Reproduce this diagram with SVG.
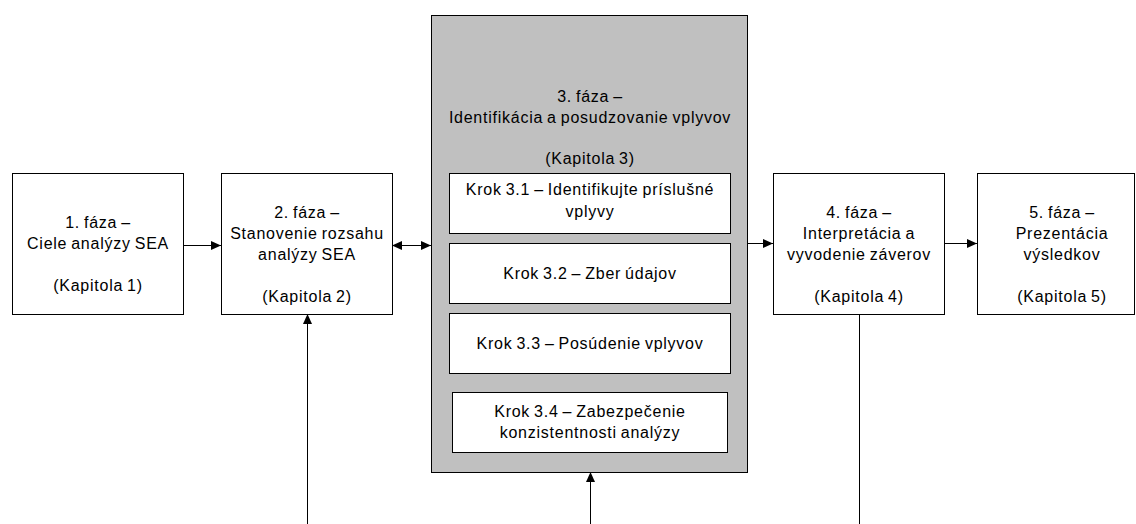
<svg xmlns="http://www.w3.org/2000/svg" width="1136" height="524" viewBox="0 0 1136 524">
  <style>
    .box { fill: #ffffff; stroke: #000000; stroke-width: 1; }
    .phase3 { fill: #c0c0c0; stroke: #000000; stroke-width: 1; }
    .lbl { font-family: "Liberation Sans", Arial, sans-serif; font-size: 16px; letter-spacing: 0.75px; word-spacing: -1.2px; fill: #000000; text-anchor: middle; }
    .conn { fill: none; stroke: #000000; stroke-width: 1; }
  </style>
  <defs>
    <marker id="arrow" markerUnits="userSpaceOnUse" markerWidth="11" markerHeight="10" refX="10" refY="4.5" orient="auto-start-reverse">
      <path d="M0,0 L10,4.5 L0,9 Z" fill="#000000"/>
    </marker>
  </defs>

  <rect width="1136" height="524" fill="#ffffff"/>

  <!-- Phase 1 -->
  <g id="phase1">
    <rect class="box" x="12.5" y="173.5" width="171" height="141"/>
    <text class="lbl" x="98" y="228">1. fáza –</text>
    <text class="lbl" x="98" y="249">Ciele analýzy SEA</text>
    <text class="lbl" x="98" y="291">(Kapitola 1)</text>
  </g>

  <!-- Phase 2 -->
  <g id="phase2">
    <rect class="box" x="221.5" y="173.5" width="171" height="141"/>
    <text class="lbl" x="307" y="218">2. fáza –</text>
    <text class="lbl" x="307" y="239">Stanovenie rozsahu</text>
    <text class="lbl" x="307" y="260">analýzy SEA</text>
    <text class="lbl" x="307" y="302">(Kapitola 2)</text>
  </g>

  <!-- Phase 3 with its steps -->
  <g id="phase3">
    <rect class="phase3" x="431.5" y="15.5" width="316" height="457"/>
    <text class="lbl" x="590" y="102">3. fáza –</text>
    <text class="lbl" x="590" y="123">Identifikácia a posudzovanie vplyvov</text>
    <text class="lbl" x="590" y="164">(Kapitola 3)</text>
  </g>
  <g id="step31">
    <rect class="box" x="449.5" y="173.5" width="281" height="60"/>
    <text class="lbl" x="590" y="195">Krok 3.1 – Identifikujte príslušné</text>
    <text class="lbl" x="590" y="217">vplyvy</text>
  </g>
  <g id="step32">
    <rect class="box" x="449.5" y="243.5" width="281" height="60"/>
    <text class="lbl" x="590" y="279">Krok 3.2 – Zber údajov</text>
  </g>
  <g id="step33">
    <rect class="box" x="449.5" y="313.5" width="281" height="60"/>
    <text class="lbl" x="590" y="349">Krok 3.3 – Posúdenie vplyvov</text>
  </g>
  <g id="step34">
    <rect class="box" x="452.5" y="392.5" width="275" height="60"/>
    <text class="lbl" x="590" y="417">Krok 3.4 – Zabezpečenie</text>
    <text class="lbl" x="590" y="438">konzistentnosti analýzy</text>
  </g>

  <!-- Phase 4 -->
  <g id="phase4">
    <rect class="box" x="773.5" y="173.5" width="171" height="141"/>
    <text class="lbl" x="859" y="218">4. fáza –</text>
    <text class="lbl" x="859" y="239">Interpretácia a</text>
    <text class="lbl" x="859" y="260">vyvodenie záverov</text>
    <text class="lbl" x="859" y="302">(Kapitola 4)</text>
  </g>

  <!-- Phase 5 -->
  <g id="phase5">
    <rect class="box" x="977.5" y="173.5" width="157" height="141"/>
    <text class="lbl" x="1062" y="218">5. fáza –</text>
    <text class="lbl" x="1062" y="239">Prezentácia</text>
    <text class="lbl" x="1062" y="260">výsledkov</text>
    <text class="lbl" x="1062" y="302">(Kapitola 5)</text>
  </g>

  <!-- Connectors -->
  <g id="connectors">
    <path class="conn" d="M183,245.5 H221" marker-end="url(#arrow)"/>
    <path class="conn" d="M392,245.5 H431" marker-start="url(#arrow)" marker-end="url(#arrow)"/>
    <path class="conn" d="M748,243.5 H773" marker-end="url(#arrow)"/>
    <path class="conn" d="M944,243.5 H977" marker-end="url(#arrow)"/>
    <path class="conn" d="M307.5,524 V314" marker-end="url(#arrow)"/>
    <path class="conn" d="M590.5,524 V472" marker-end="url(#arrow)"/>
    <path class="conn" d="M859.5,314 V524"/>
  </g>
</svg>
